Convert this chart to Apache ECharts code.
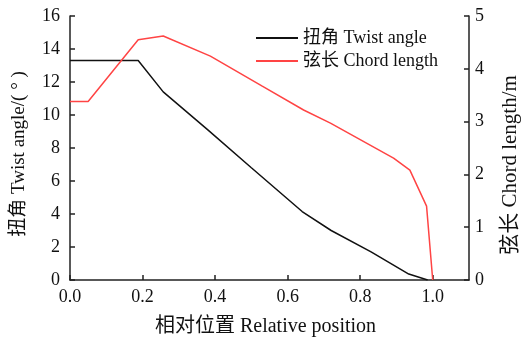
<!DOCTYPE html>
<html><head><meta charset="utf-8">
<script src="https://cdn.jsdelivr.net/npm/echarts@6/dist/echarts.min.js"></script>
<style>html,body{margin:0;padding:0;background:#fff}#c{width:524px;height:338px}</style>
</head><body><div id="c"></div>
<script>
const twistX = [0.0, 0.188, 0.257, 0.38, 0.50, 0.64, 0.72, 0.83, 0.934, 0.986];
const twistY = [13.3, 13.3, 11.4, 9.1, 6.8, 4.15, 3.0, 1.7, 0.36, 0.0];
const chordX = [0.0, 0.05, 0.188, 0.257, 0.387, 0.53, 0.644, 0.718, 0.892, 0.937, 0.983, 1.0];
const chordY = [3.38, 3.38, 4.55, 4.62, 4.24, 3.67, 3.22, 2.97, 2.31, 2.08, 1.40, 0.0];
const leftTicks = [0, 2, 4, 6, 8, 10, 12, 14, 16];
const rightTicks = [0, 1, 2, 3, 4, 5];
const F = '"Liberation Serif","Noto Sans CJK SC",serif';
const zip = (a, b) => a.map((v, i) => [v, b[i]]);
const chart = echarts.init(document.getElementById('c'));
const axisCommon = {
  axisLine: {show: true, lineStyle: {color: '#222', width: 1.5}},
  axisTick: {show: true, inside: true, length: 5, lineStyle: {color: '#222', width: 1.5}},
  splitLine: {show: false},
  axisLabel: {color: '#111', fontFamily: F, fontSize: 18}
};
chart.setOption({
  animation: false,
  textStyle: {fontFamily: F},
  grid: {left: 70, right: 55, top: 16, bottom: 58, containLabel: false, outerBoundsMode: 'none'},
  legend: {
    orient: 'vertical', left: 250, top: 24, itemWidth: 42, itemHeight: 10, itemGap: 5,
    itemStyle: {opacity: 0},
    textStyle: {color: '#111', fontFamily: F, fontSize: 18},
    data: ['扭角 Twist angle', '弦长 Chord length']
  },
  xAxis: Object.assign({}, axisCommon, {
    type: 'value', min: 0, max: 1.1, interval: 0.2,
    axisLabel: Object.assign({}, axisCommon.axisLabel, {margin: 8, showMaxLabel: false, formatter: v => v.toFixed(1)}),
    name: '相对位置 Relative position', nameLocation: 'middle', nameGap: 37,
    nameTextStyle: {color: '#111', fontFamily: F, fontSize: 20, padding: [0, 8, 0, 0]}
  }),
  yAxis: [
    Object.assign({}, axisCommon, {
      type: 'value', min: leftTicks[0], max: leftTicks[leftTicks.length - 1], interval: 2,
      axisLabel: Object.assign({}, axisCommon.axisLabel, {margin: 10}),
      name: '扭角 Twist angle/( ° )', nameLocation: 'middle', nameGap: 41, nameRotate: 90,
      nameTextStyle: {color: '#111', fontFamily: F, fontSize: 19, padding: [0, 12, 0, 0]}
    }),
    Object.assign({}, axisCommon, {
      type: 'value', position: 'right', min: rightTicks[0], max: rightTicks[rightTicks.length - 1], interval: 1,
      axisLabel: Object.assign({}, axisCommon.axisLabel, {margin: 6}),
      name: '弦长 Chord length/m', nameLocation: 'middle', nameGap: 31, nameRotate: 90,
      nameTextStyle: {color: '#111', fontFamily: F, fontSize: 21, padding: [0, 34, 0, 0]}
    })
  ],
  series: [
    {name: '扭角 Twist angle', type: 'line', yAxisIndex: 0, data: zip(twistX, twistY),
     symbol: 'none', lineStyle: {color: '#111', width: 1.5}, itemStyle: {color: '#111'}},
    {name: '弦长 Chord length', type: 'line', yAxisIndex: 1, data: zip(chordX, chordY),
     symbol: 'none', lineStyle: {color: '#ff4444', width: 1.5}, itemStyle: {color: '#ff4444'}}
  ]
});
</script></body></html>
